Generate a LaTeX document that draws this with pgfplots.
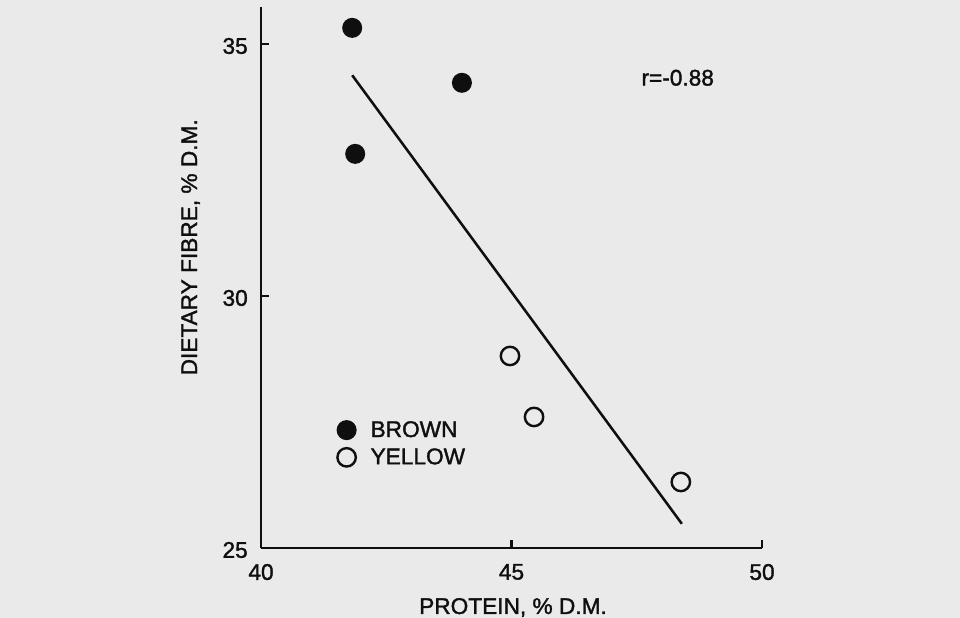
\documentclass[border=0pt]{standalone}
\usepackage{fontspec}
\setmainfont{Liberation Sans}
\newfontfamily\heavysans{Liberation Sans}[FakeBold=1.5]
\usepackage{pgfplots}
\pgfplotsset{compat=1.18}
\usetikzlibrary{backgrounds}
\definecolor{bgc}{RGB}{234,234,234}
\definecolor{ink}{RGB}{15,15,15}
\begin{document}
\begin{tikzpicture}[font=\heavysans\fontsize{17}{20}\selectfont, show background rectangle, inner frame sep=0pt,
  background rectangle/.style={fill=bgc, draw=none}]
\begin{axis}[
  x=37.575pt, y=37.8pt,
  xmin=40, xmax=50, ymin=25, ymax=35.73,
  axis lines=left,
  axis line style={-, line width=1.6pt, ink},
  tick align=inside,
  major tick length=6pt,
  tick style={line width=1.6pt, ink},
  xtick={40,45,50}, xticklabels={40,45,50},
  ytick={25,30,35}, yticklabels={25,30,35},
  /pgf/number format/assume math mode=true,
  xticklabel style={yshift=-8.5pt, text=ink},
  yticklabel style={xshift=-6.4pt, yshift=-1.5pt, text=ink},
  every axis x label/.style={at={(axis description cs:0.503,-0.122)}, anchor=base},
  every axis y label/.style={at={(axis description cs:-0.1277,0.556)}, rotate=90, anchor=base},
  xlabel={PROTEIN, \% D.M.},
  ylabel={DIETARY FIBRE, \% D.M.},
  label style={text=ink},
  clip=false,
  legend cell align=left,
  legend image code/.code={\draw[mark repeat=2,mark phase=2,#1] plot coordinates {(0pt,0pt) (7.5pt,0pt) (15pt,0pt)};},
  legend style={at={(axis cs:41.517,27.07)}, anchor=west, draw=none, fill=none,
    inner sep=0pt, row sep=6.5pt, column sep=11pt, nodes={inner sep=0pt, text=ink}},
]
\addplot[only marks, mark=*, mark size=7pt, mark options={draw=ink, fill=ink, line width=1pt}]
  coordinates {(41.82,35.32) (44.01,34.23) (41.88,32.82)};
\addlegendentry{BROWN}
\addplot[only marks, mark=o, mark size=6.9pt, mark options={draw=ink, fill=none, line width=1.8pt}]
  coordinates {(44.97,28.81) (45.45,27.60) (48.38,26.31)};
\addlegendentry{YELLOW}
\addplot[ink, line width=1.9pt, forget plot] coordinates {(41.82,34.38) (48.40,25.48)};
\node[anchor=west, text=ink] at (axis cs:47.5,34.33) {r=-0.88};
\coordinate (bl) at (axis cs:34.79,23.611);
\coordinate (tr) at (axis cs:53.952,35.873);
\end{axis}
\pgfresetboundingbox
\path[use as bounding box] (bl) rectangle (tr);
\end{tikzpicture}
\end{document}
